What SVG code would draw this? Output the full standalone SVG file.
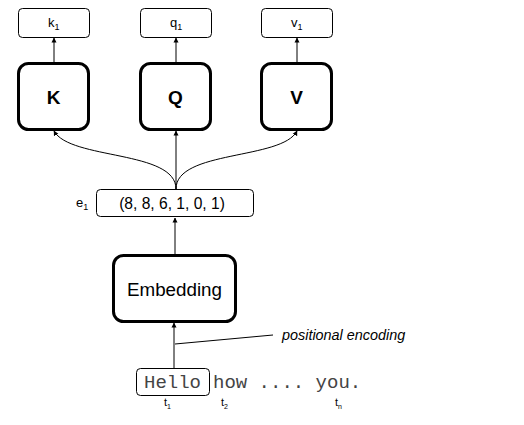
<svg xmlns="http://www.w3.org/2000/svg" width="524" height="425" viewBox="0 0 524 425">
<defs>
<marker id="ah" viewBox="0 0 10 10" refX="9" refY="5" markerWidth="5" markerHeight="6" orient="auto" markerUnits="userSpaceOnUse">
<path d="M0,0 L10,5 L0,10 z" fill="#000"/>
</marker>
<style>
.thin{fill:#fff;stroke:#000;stroke-width:1}
.thick{fill:#fff;stroke:#000;stroke-width:3}
.lbl{font-family:"Liberation Sans",Arial,sans-serif;fill:#000}
.mono{font-family:"Liberation Mono","Courier New",monospace;fill:#444}
.edge{fill:none;stroke:#000;stroke-width:1}
</style>
</defs>
<rect width="524" height="425" fill="#fff"/>
<g id="connectors">
<path class="edge" d="M54,62 L54,38" marker-end="url(#ah)"/>
<path class="edge" d="M176,62 L176,38" marker-end="url(#ah)"/>
<path class="edge" d="M297,62 L297,38" marker-end="url(#ah)"/>
<path class="edge" d="M176,189 C176,150 70,160 54,131" marker-end="url(#ah)"/>
<path class="edge" d="M176,189 L176,131" marker-end="url(#ah)"/>
<path class="edge" d="M176,189 C176,150 282,160 297,131" marker-end="url(#ah)"/>
<path class="edge" d="M175,254 L175,218" marker-end="url(#ah)"/>
<path class="edge" d="M174,368 L174,323" marker-end="url(#ah)"/>
<path class="edge" d="M175,344 L273,335"/>
</g>
<g id="k1"><rect class="thin" x="18.5" y="8.5" width="71" height="29" rx="4"/><text class="lbl" x="48" y="27" font-size="13">k<tspan font-size="9" dy="3">1</tspan></text></g>
<g id="q1"><rect class="thin" x="140.5" y="8.5" width="71" height="29" rx="4"/><text class="lbl" x="170" y="27" font-size="13">q<tspan font-size="9" dy="3">1</tspan></text></g>
<g id="v1"><rect class="thin" x="261.5" y="8.5" width="71" height="29" rx="4"/><text class="lbl" x="291" y="27" font-size="13">v<tspan font-size="9" dy="3">1</tspan></text></g>
<g id="K"><rect class="thick" x="18.5" y="63.5" width="70" height="66" rx="10"/><text class="lbl" x="53.5" y="104" font-size="19" font-weight="bold" text-anchor="middle">K</text></g>
<g id="Q"><rect class="thick" x="140.5" y="63.5" width="70" height="66" rx="10"/><text class="lbl" x="175.5" y="104" font-size="19" font-weight="bold" text-anchor="middle">Q</text></g>
<g id="V"><rect class="thick" x="261.5" y="63.5" width="70" height="66" rx="10"/><text class="lbl" x="296.5" y="104" font-size="19" font-weight="bold" text-anchor="middle">V</text></g>
<g id="e1"><rect class="thin" x="96.5" y="189.5" width="157" height="27" rx="4"/><text class="lbl" x="172" y="209" font-size="15.6" text-anchor="middle">(8, 8, 6, 1, 0, 1)</text><text class="lbl" x="76" y="207" font-size="13">e<tspan font-size="9" dy="3">1</tspan></text></g>
<g id="embedding"><rect class="thick" x="113.5" y="255.5" width="122" height="66" rx="10"/><text class="lbl" x="174.5" y="296" font-size="18.8" text-anchor="middle">Embedding</text></g>
<g id="posenc"><text class="lbl" x="282" y="340" font-size="14.4" font-style="italic">positional encoding</text></g>
<g id="hello"><rect class="thin" x="136.5" y="368.5" width="73" height="27" rx="4"/><text class="mono" x="144" y="388" font-size="19">Hello</text></g>
<g id="rest"><text class="mono" x="213" y="388" font-size="19">how .... you.</text></g>
<g id="tokens">
<text class="lbl" x="164" y="406" font-size="11">t<tspan font-size="7" dy="3">1</tspan></text>
<text class="lbl" x="221" y="406" font-size="11">t<tspan font-size="7" dy="3">2</tspan></text>
<text class="lbl" x="335" y="406" font-size="11">t<tspan font-size="7" dy="3">n</tspan></text>
</g>
</svg>
